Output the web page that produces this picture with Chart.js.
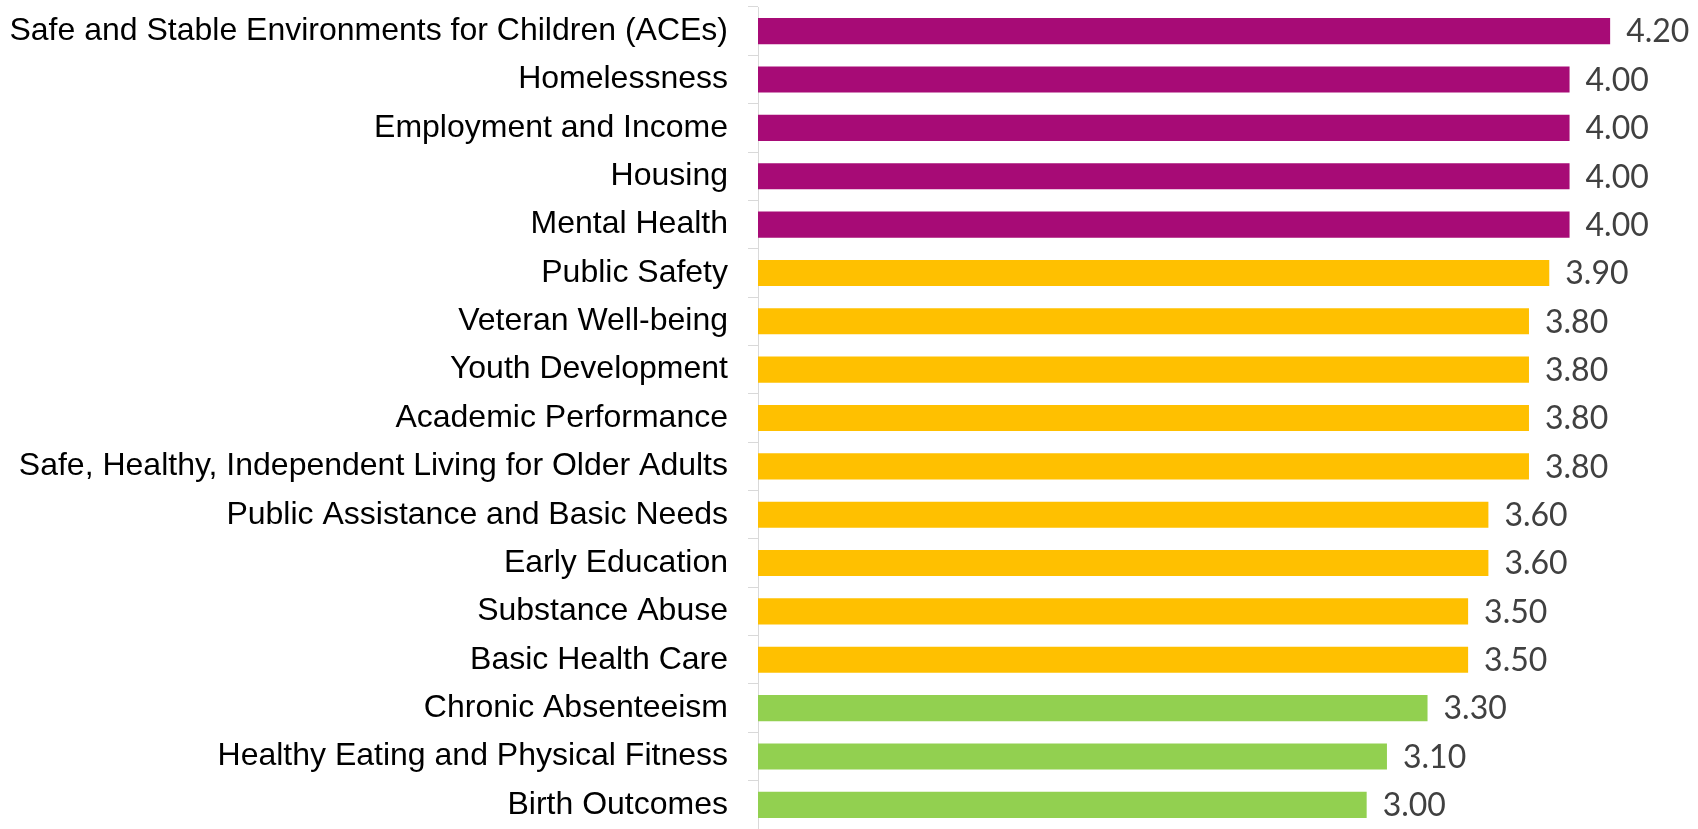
<!DOCTYPE html>
<html>
<head>
<meta charset="utf-8">
<title>Priority ratings</title>
<script src="https://cdn.jsdelivr.net/npm/chart.js@4/dist/chart.umd.min.js"></script>
<style>
  html, body { margin: 0; padding: 0; background: #fff; }
  canvas { display: block; }
</style>
</head>
<body>
<canvas id="graficoPrioridades" width="1698" height="829"></canvas>
<script>
// Issue areas and their average ratings, top to bottom
const categorias = [
  'Safe and Stable Environments for Children (ACEs)',
  'Homelessness',
  'Employment and Income',
  'Housing',
  'Mental Health',
  'Public Safety',
  'Veteran Well-being',
  'Youth Development',
  'Academic Performance',
  'Safe, Healthy, Independent Living for Older Adults',
  'Public Assistance and Basic Needs',
  'Early Education',
  'Substance Abuse',
  'Basic Health Care',
  'Chronic Absenteeism',
  'Healthy Eating and Physical Fitness',
  'Birth Outcomes'
];
const notas = [4.20, 4.00, 4.00, 4.00, 4.00, 3.90, 3.80, 3.80, 3.80, 3.80, 3.60, 3.60, 3.50, 3.50, 3.30, 3.10, 3.00];

// Colour bands by rating
function corDaNota(v) {
  if (v >= 4) return '#A70B76';
  if (v >= 3.5) return '#FFC000';
  return '#92D050';
}

// Value labels drawn just past the end of each bar
const rotulosValor = {
  id: 'rotulosValor',
  afterDatasetsDraw(chart) {
    const ctx = chart.ctx;
    const meta = chart.getDatasetMeta(0);
    ctx.save();
    ctx.font = '32px Lato, "Open Sans", sans-serif';
    ctx.fillStyle = '#404040';
    ctx.textAlign = 'left';
    ctx.textBaseline = 'middle';
    meta.data.forEach((bar, i) => {
      ctx.fillText(notas[i].toFixed(2), bar.x + 16, bar.y + 1);
    });
    ctx.restore();
  }
};

const ctx = document.getElementById('graficoPrioridades').getContext('2d');
const grafico = new Chart(ctx, {
  type: 'bar',
  data: {
    labels: categorias,
    datasets: [{
      data: notas,
      backgroundColor: notas.map(corDaNota),
      borderWidth: 0,
      categoryPercentage: 1,
      barPercentage: 0.54
    }]
  },
  options: {
    indexAxis: 'y',
    responsive: false,
    animation: false,
    // last band runs slightly past the bottom edge
    layout: { padding: { top: 7, right: 27, bottom: -3, left: 0 } },
    plugins: {
      legend: { display: false },
      tooltip: { enabled: false }
    },
    scales: {
      x: {
        display: false,
        min: 0,
        max: 4.5
      },
      y: {
        afterFit(scale) {
          // fixed label column, no extra room above/below the bars
          scale.width = 758;
          scale.paddingTop = 0;
          scale.paddingBottom = 0;
        },
        grid: {
          offset: true,
          drawOnChartArea: false,
          color: '#d9d9d9',
          tickLength: 10
        },
        border: { color: '#d9d9d9', width: 1 },
        ticks: {
          padding: 20,
          color: '#000',
          font: { family: '"Liberation Sans", Arial, sans-serif', size: 32 }
        }
      }
    }
  },
  plugins: [rotulosValor]
});
</script>
</body>
</html>
